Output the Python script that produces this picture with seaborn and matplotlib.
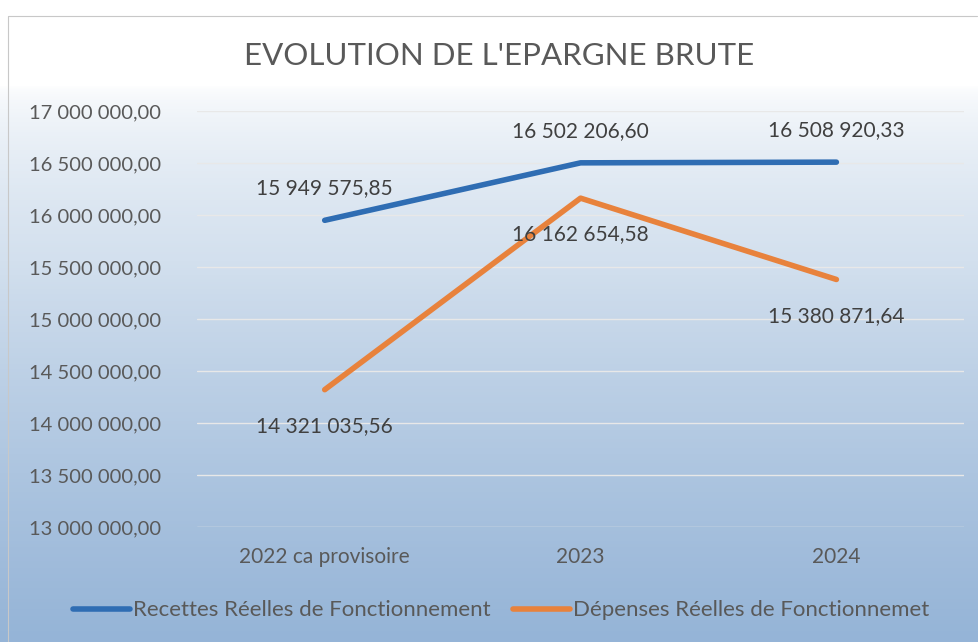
import pandas as pd
import seaborn as sns
import matplotlib.pyplot as plt
import numpy as np
from matplotlib.colors import LinearSegmentedColormap

# Data
years = ['2022 ca provisoire', '2023', '2024']
recettes = [15949575.85, 16502206.60, 16508920.33]
depenses = [14321035.56, 16162654.58, 15380871.64]
series_names = ['Recettes Réelles de Fonctionnement', 'Dépenses Réelles de Fonctionnemet']

df = pd.DataFrame({
    'annee': years * 2,
    'valeur': recettes + depenses,
    'serie': [series_names[0]] * 3 + [series_names[1]] * 3,
})

def fr_num(v):
    s = f"{v:,.2f}"
    return s.replace(',', ' ').replace('.', ',')

sns.set_style('white')
plt.rcParams['font.family'] = ['Lato', 'DejaVu Sans']

fig = plt.figure(figsize=(9.79, 6.42), dpi=100)

# gradient background
bg = fig.add_axes([0, 0, 1, 1], zorder=-10)
grad = np.concatenate([np.zeros(85), np.linspace(0, 1, 557) ** 0.6])[:, None]
cmap = LinearSegmentedColormap.from_list('bg', ['#ffffff', '#d3e0ee', '#95b4d7'])
bg.imshow(grad, aspect='auto', cmap=cmap, extent=[0, 1, 0, 1], origin='upper')
bg.axis('off')
bg.plot([0.008, 0.008, 0.998], [0.0, 0.975, 0.975], color='#c8c8c8', lw=0.8,
        transform=bg.transAxes, clip_on=False)

ax = fig.add_axes([0.201, 0.179, 0.784, 0.648])
ax.patch.set_alpha(0)

palette = {series_names[0]: '#2f6db3', series_names[1]: '#e8823c'}
sns.lineplot(data=df, x='annee', y='valeur', hue='serie', palette=palette,
             linewidth=4, ax=ax, sort=False)

ax.set_ylim(13000000, 17000000)
ax.set_xlim(-0.5, 2.5)
ax.set_yticks(np.arange(13000000, 17000001, 500000))
ax.set_yticklabels([fr_num(v) for v in ax.get_yticks()])
ax.grid(axis='y', color='#e8e8e8', linewidth=1)
ax.set_axisbelow(True)
for s in ax.spines.values():
    s.set_visible(False)
ax.tick_params(axis='both', length=0, colors='#595959')
ax.tick_params(axis='y', pad=26, labelsize=14.5)
ax.tick_params(axis='x', pad=14, labelsize=15)
ax.set_xlabel('')
ax.set_ylabel('')

# data labels
for i, v in enumerate(recettes):
    ax.annotate(fr_num(v), (i, v), xytext=(0, 16), textcoords='offset points',
                ha='center', va='bottom', fontsize=15, color='#404040')
for i, v in enumerate(depenses):
    ax.annotate(fr_num(v), (i, v), xytext=(0, -19), textcoords='offset points',
                ha='center', va='top', fontsize=15, color='#404040')

fig.text(0.51, 0.912, "EVOLUTION DE L'EPARGNE BRUTE", ha='center', va='center',
         fontsize=22.5, color='#595959')

ax.legend(loc='center', bbox_to_anchor=(0.396, -0.2), ncol=2, frameon=False,
          fontsize=16, handlelength=2.6, handletextpad=0.1, columnspacing=1.0,
          labelcolor='#595959')

plt.savefig('out.png', dpi=100)
